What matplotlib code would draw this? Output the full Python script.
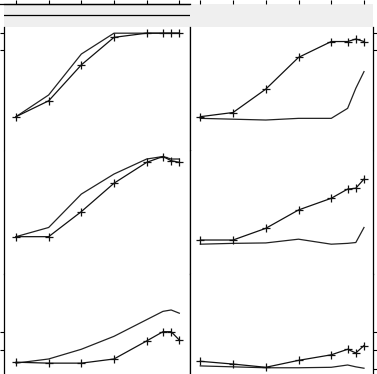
import matplotlib
matplotlib.use("Agg")
import matplotlib.pyplot as plt
from matplotlib.lines import Line2D

# ---------------- data ----------------
x = [0, 1, 2, 3, 4, 4.5, 4.75, 5]
x_ticks = [0, 1, 2, 3, 4, 5]

# left column
left_r1_marked = [0, 19, 62, 95, 100, 100, 100, 100]
left_r1_plain = [0, 26, 75, 100, 100, 100, 100, 100]
left_r2_marked = [0, 0, 30, 64, 89, 96, 91, 89]
left_r2_plain = [0, 11, 51, 75, 93, 96, 93, 93]
left_r3_marked = [7, 6, 6, 10.5, 30, 40, 40, 31]
left_r3_plain = [6, 10.5, 21, 35, 53, 62, 63.5, 60]

# right column
right_r1_marked = [0, 5, 33, 71, 90, 90, 93, 90]
right_r1_plain = [-2, -3, -4, -2, -2, 10, 34, 54]
right_r2_marked = [-4, -4, 10, 32, 46, 57, 58, 69]
right_r2_plain = [-9, -8, -7.5, -3, -9, -8, -7, 11]
right_r3_marked = [8, 5, 1.5, 9, 15, 21, 17, 25]
right_r3_plain = [3, 2, 1, 1, 1.5, 4, 2, 0.5]

row1_ticks = [80, 100]
row3_left_ticks = [20, 40]
row3_right_ticks = [0, 20, 40]

# ---------------- layout ----------------
W, H = 377, 374
fig = plt.figure(figsize=(W / 100, H / 100), dpi=100)
fig.patch.set_facecolor("white")


def rect(x0, y0, x1, y1):
    return [x0 / W, 1 - y1 / H, (x1 - x0) / W, (y1 - y0) / H]


cols = {
    "left": dict(x0=4, x1=189.5, xlim=(-0.367, 5.312)),
    "right": dict(x0=189.5, x1=373, xlim=(-0.330, 5.275)),
}
rows = [(27, 150.5, (-40.5, 107.4)), (150.5, 274, (-44.7, 103.2)), (274, 398, (-31.7, 102.4))]

data = {
    "left": [(left_r1_marked, left_r1_plain), (left_r2_marked, left_r2_plain),
             (left_r3_marked, left_r3_plain)],
    "right": [(right_r1_marked, right_r1_plain), (right_r2_marked, right_r2_plain),
              (right_r3_marked, right_r3_plain)],
}
yticks = {
    "left": [row1_ticks, [], row3_left_ticks],
    "right": [row1_ticks, [], row3_right_ticks],
}

tick_len = 2.9
lw_spine = 0.9
strip_color = "#efefef"

for side, c in cols.items():
    # strip
    sax = fig.add_axes(rect(c["x0"], 4, c["x1"], 27))
    sax.set_facecolor(strip_color)
    sax.set_xlim(*c["xlim"])
    sax.set_ylim(0, 1)
    for sp in sax.spines.values():
        sax.spines
        sp.set_visible(False)
    sax.set_yticks([])
    sax.xaxis.set_ticks_position("top")
    sax.set_xticks(x_ticks)
    sax.tick_params(axis="x", direction="out", length=tick_len, width=0.8,
                    labeltop=False, labelbottom=False, color="black")
    if side == "left":
        sax.spines["top"].set_visible(True)
        sax.spines["top"].set_linewidth(lw_spine)
        sax.axhline((27 - 15) / 23, color="black", lw=lw_spine)

    for r, (ytop, ybot, ylim) in enumerate(rows):
        ax = fig.add_axes(rect(c["x0"], ytop, c["x1"], ybot))
        ax.set_xlim(*c["xlim"])
        ax.set_ylim(*ylim)
        ax.set_facecolor("white")
        ax.spines["top"].set_visible(False)
        ax.spines["bottom"].set_visible(False)
        ax.spines["left"].set_linewidth(lw_spine)
        ax.spines["right"].set_linewidth(lw_spine)
        ax.set_xticks([])
        ax.set_yticks(yticks[side][r])
        if side == "left":
            ax.yaxis.set_ticks_position("left")
        else:
            ax.yaxis.set_ticks_position("right")
        ax.tick_params(axis="y", direction="out", length=tick_len, width=0.8,
                       labelleft=False, labelright=False, color="black")
        marked, plain = data[side][r]
        ax.plot(x, plain, color="#222222", lw=0.9)
        ax.plot(x, marked, color="#111111", lw=0.9, marker="+",
                markersize=5.5, markeredgewidth=0.9)

# top border line of the left strip extends to the figure edge
fig.add_artist(Line2D([0, 189.5 / W], [1 - 4 / H, 1 - 4 / H], color="black", lw=lw_spine))

fig.savefig("out.png", dpi=100, facecolor="white")
